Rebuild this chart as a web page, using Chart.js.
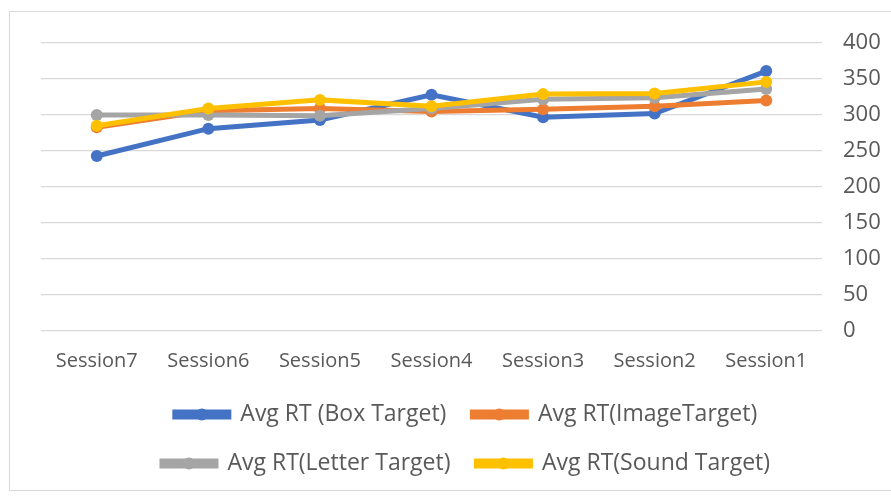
<!DOCTYPE html>
<html>
<head>
<meta charset="utf-8">
<script src="https://cdn.jsdelivr.net/npm/chart.js@4"></script>
<style>
  html, body { margin: 0; padding: 0; background: #fff; overflow: hidden; }
  #wrap { position: relative; width: 891px; height: 497px; }
  #frame { position: absolute; left: 9px; top: 11px; width: 900px; height: 478px; border: 1px solid #d9d9d9; }
  canvas { position: absolute; left: 0; top: 0; }
</style>
</head>
<body>
<div id="wrap">
  <div id="frame"></div>
  <canvas id="grafik" width="891" height="497"></canvas>
</div>
<script>
const sesi = ['Session7', 'Session6', 'Session5', 'Session4', 'Session3', 'Session2', 'Session1'];
const boxTarget = [243, 281, 293, 328, 297, 302, 361];
const imageTarget = [283, 306, 309, 305, 308, 312, 320];
const letterTarget = [300, 300, 299, 309, 322, 324, 336];
const soundTarget = [285, 309, 321, 312, 329, 330, 346];

const warnaTeks = '#595959';
const fontDasar = "'Open Sans', 'Noto Sans', sans-serif";

function seri(label, data, warna, urutan) {
  return {
    label, data,
    borderColor: warna, backgroundColor: warna,
    borderWidth: 5, pointRadius: 6, pointBorderWidth: 0,
    pointBackgroundColor: warna, tension: 0, order: urutan
  };
}

// titik bulat di tengah garis legenda, seperti di Excel
const titikLegenda = {
  id: 'titikLegenda',
  afterDraw(chart) {
    const lg = chart.legend;
    if (!lg || !lg.legendHitBoxes) return;
    const ctx = chart.ctx;
    const bw = lg.options.labels.boxWidth;
    lg.legendItems.forEach((item, i) => {
      const hb = lg.legendHitBoxes[i];
      ctx.save();
      ctx.fillStyle = item.strokeStyle;
      ctx.beginPath();
      ctx.arc(hb.left + bw / 2, hb.top + lg.options.labels.font.size / 2, 6, 0, Math.PI * 2);
      ctx.fill();
      ctx.restore();
    });
  }
};

const ctx = document.getElementById('grafik').getContext('2d');
new Chart(ctx, {
  type: 'line',
  data: {
    labels: sesi,
    datasets: [
      seri('Avg RT (Box Target)', boxTarget, '#4472C4', 4),
      seri('Avg RT(ImageTarget)', imageTarget, '#ED7D31', 3),
      seri('Avg RT(Letter Target)', letterTarget, '#A5A5A5', 2),
      seri('Avg RT(Sound Target)', soundTarget, '#FFC000', 1)
    ]
  },
  options: {
    responsive: false,
    animation: false,
    layout: { padding: { left: 41, right: 0, top: 43, bottom: 12 } },
    scales: {
      x: {
        offset: true,
        grid: { display: false },
        border: { display: false },
        ticks: { color: warnaTeks, font: { family: fontDasar, size: 20 }, padding: 10, maxRotation: 0 },
        afterFit(scale) { scale.height -= 6; }
      },
      y: {
        position: 'right',
        min: 0, max: 400,
        grid: { color: '#d9d9d9', lineWidth: 1.3, drawTicks: false },
        border: { display: false },
        ticks: { stepSize: 50, color: warnaTeks, font: { family: fontDasar, size: 22 }, padding: 21 },
        afterFit(scale) { scale.width = 69; }
      }
    },
    plugins: {
      legend: {
        position: 'bottom',
        labels: {
          boxWidth: 54, boxHeight: 5, padding: 26,
          color: warnaTeks, font: { family: fontDasar, size: 23 },
          sort: (a, b) => a.datasetIndex - b.datasetIndex
        }
      },
      tooltip: { enabled: false }
    }
  },
  plugins: [titikLegenda]
});
</script>
</body>
</html>
